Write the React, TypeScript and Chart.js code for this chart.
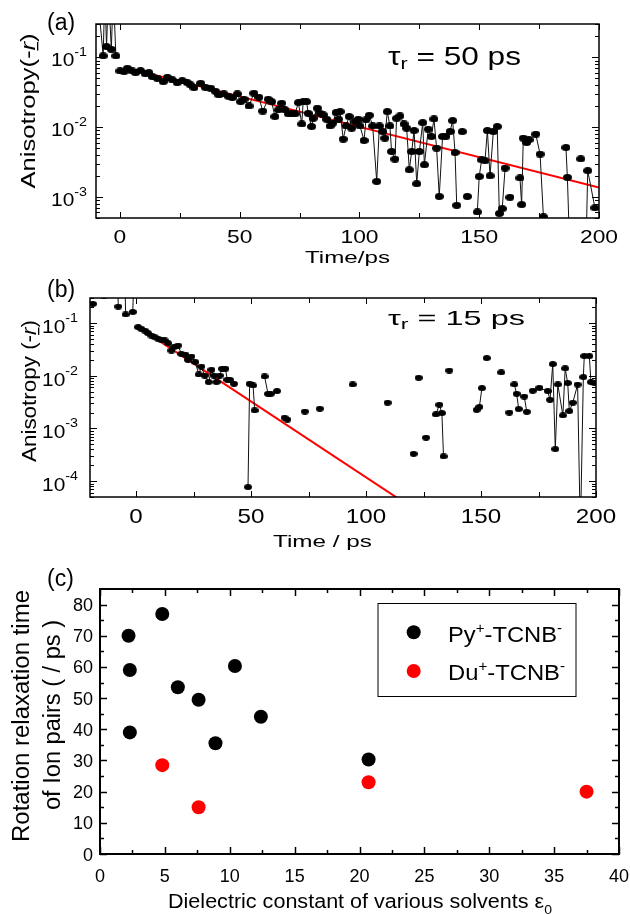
import React, { useEffect, useRef } from 'react';
import { Chart, registerables } from 'chart.js';

Chart.register(...registerables);

// ---------------- data ----------------
// (a) anisotropy decay, tau_r = 50 ps
const aTime = [
  -9.5, -7.0, -6.3, -5.6, -4.8, -3.6, -2.8, -1.7, -1.0,
  0, 1.7, 3.1, 5.1, 6.5, 8.6, 10.7, 12.1, 13.5, 15.6, 18.1, 19.8, 21.9, 23.9, 26.0, 28.1, 29.5, 30.9,
  33.7, 35.8, 37.9, 40.0, 41.3, 43.4, 45.5, 46.9, 49.0, 50.4, 51.8, 53.9, 55.9, 58.0, 59.6,
  61.9, 63.3, 64.7, 66.1, 67.5, 68.9, 70.3, 71.7, 73.1, 74.5, 75.9, 76.5, 77.9, 78.6, 80.0, 80.7,
  82.4, 83.5, 84.9, 86.3, 87.7, 88.8, 90.2, 91.2, 91.9, 93.2, 94.4, 95.7, 96.7, 98.1, 99.5, 100.2,
  101.9, 102.7, 104.1, 105.5, 107.2, 108.3, 109.7, 110.6, 111.6, 112.7, 113.4, 114.8, 115.5, 116.9,
  118.6, 119.7, 120.8, 121.8, 122.8, 123.9, 125.0, 126.4, 127.1, 128.7, 130.0, 131.1, 132.2, 133.3,
  134.7, 136.1, 137.8, 138.9, 139.9, 140.6, 141.8, 142.9, 144.0, 145.0, 146.5, 149.2, 150.0, 151.0,
  152.4, 153.4, 154.5, 155.9, 157.5, 158.4, 159.6, 160.8, 161.8, 162.8, 164.5, 167.0, 167.7, 168.4,
  169.8, 170.8, 173.6, 175.4, 176.8, 180.0, 186.2, 186.8, 188.0, 190.0, 192.4, 193.5, 194.4, 195.3, 198.3,
];
const aAniso = [
  0.9, 0.105, 0.9, 0.142, 0.9, 0.13, 0.9, 0.105, null,
  0.0637, 0.0624, 0.0697, 0.0637, 0.0603, 0.0644, 0.0577, 0.0603, 0.0528, 0.0501, 0.0448, 0.0518, 0.0474, 0.0434, 0.0463, 0.0434, 0.0402, 0.0368,
  0.0425, 0.0368, 0.0361, 0.0323, 0.0289, 0.0299, 0.0274, 0.0265, 0.0299, 0.0232, 0.0251, 0.0201, 0.0306, 0.0268, 0.017,
  0.0251, 0.0232, 0.0142, 0.0177, 0.022, 0.0177, 0.0155, 0.0158, 0.0155, 0.0225, 0.0111, 0.0232, 0.0232, 0.0158, 0.0102, 0.0134,
  0.0187, 0.0158, 0.015, 0.013, 0.0104, 0.0114, 0.0162, 0.013, 0.0167, 0.00674, 0.0104, 0.0142, 0.00968, 0.012, 0.013, 0.0104,
  0.00644, 0.0127, 0.0148, 0.0104, 0.00167, 0.0104, 0.00865, 0.00697, 0.0167, 0.0104, 0.00448, 0.00349, 0.0134, 0.0145,
  0.0111, 0.00968, 0.00245, 0.00448, 0.00894, 0.00155, 0.00448, 0.0116, 0.00289, 0.00936, 0.00735, 0.0131, 0.005, 0.00102,
  0.00735, 0.0074, 0.00865, 0.0124, 0.00434, 0.00076, null, 0.00865, null, 0.00102, null, 0.00061, 0.00197, 0.00341,
  0.0033, 0.00894, 0.00201, 0.00865, 0.0102, 0.00058, 0.00068, 0.0026, null, 0.00099, null, 0.00187, 0.00078, 0.00697,
  0.00603, 0.00659, 0.00794, 0.00411, 0.00052, null, 0.00512, 0.00191, 0.0001, null, 0.00352, null, 0.0001, 0.00238, 0.0007,
];
const aFitTime = [5, 200];
const aFitAniso = [0.0677, 0.00137];

// (b) anisotropy decay, tau_r = 15 ps
const bTime = [
  -18.8, -16.0, -13.9, -10.0, -8.0, -7.7, -6.0, -4.8, -4.5, -3.0, -1.4, -1.0, 0,
  0.9, 2.3, 3.8, 5.2, 6.7, 8.1, 9.6, 11.0, 12.5, 13.9, 15.4, 16.5, 18.3, 19.7, 21.5, 22.6, 24.1, 25.8,
  27.3, 28.4, 29.9, 31.6, 32.8, 33.9, 35.0, 36.4, 37.4, 38.9, 39.7, 40.8, 42.6, 45.0,
  48.7, 49.4, 50.9, 51.6, 54.0, 55.9, 57.4, 58.6, 60.0, 61.3, 63.0, 64.6, 65.8, 70.0, 73.4, 77.0, 79.9,
  85.0, 94.2, 100.0, 109.4, 115.0, 120.7, 121.8, 122.9, 124.5, 126.1, 128.0, 130.4, 131.9, 133.0, 133.7,
  135.0, 136.2, 140.0, 148.1, 149.3, 150.4, 151.5, 152.5, 155.0, 158.8, 160.0, 162.3, 163.5, 164.5, 165.5,
  166.4, 167.5, 168.8, 169.9, 171.0, 172.5, 175.4, 179.0, 180.0, 181.2, 182.3, 183.4, 185.6, 186.6, 187.7,
  188.4, 189.9, 192.0, 193.2, 194.5, 194.9, 197.1, 197.8, 199.3,
];
const bAniso = [
  0.232, null, 0.33, null, 0.6, 0.206, null, 0.6, 0.146, null, 0.163, 0.6, null,
  0.084, 0.078, 0.0724, 0.0646, 0.0582, 0.0542, 0.0504, 0.0482, 0.0468, 0.0417, 0.0302, 0.0351, 0.0376, 0.0261, 0.0253, 0.0201, 0.0232, 0.0182,
  0.0106, 0.015, 0.0101, 0.0076, 0.013, 0.0101, 0.0076, 0.0101, 0.0136, 0.0136, 0.0084, 0.0084, 0.00705, null,
  0.000077, 0.00705, 0.00655, 0.0022, null, 0.0097, 0.00455, 0.00455, null, 0.00513, null, 0.0016, 0.00148, null, 0.0021, null, 0.00237,
  null, 0.00684, null, 0.00308, null, 0.00033, null, 0.00916, null, 0.00067, null, 0.00185, 0.00282, 0.00196, 0.000295,
  null, 0.0126, null, 0.00226, 0.00255, 0.00583, null, 0.0217, null, 0.0116, null, 0.00201, null, 0.00684, 0.00455,
  0.00233, null, 0.00404, 0.00207, null, 0.00519, 0.00591, 0.00513, 0.00351, 0.0167, 0.000406, 0.00684, 0.00177, 0.0138, 0.00727,
  0.00214, 0.00308, 0.0068, 0.00001, 0.00944, 0.0237, 0.0237, 0.0076, 0.00727,
];
const bFitTime = [2, 120];
const bFitAniso = [0.0786, 0.0000314];

// (c) rotation relaxation time vs dielectric constant
const pyEps = [2.2, 2.3, 2.3, 4.8, 6.0, 7.6, 8.9, 10.4, 12.4, 20.7];
const pyTau = [70, 59, 39, 77, 53.5, 49.5, 35.5, 60.3, 44, 30.3];
const duEps = [4.8, 7.6, 20.7, 37.5];
const duTau = [28.5, 15, 23, 20];

// tick labels
const abXMajor = [0, 50, 100, 150, 200];
const abXMinor = [25, 75, 125, 175];
const aYExp = [-1, -2, -3];
const bYExp = [-1, -2, -3, -4];
const cXMajor = [0, 5, 10, 15, 20, 25, 30, 35, 40];
const cXMinor = [2.5, 7.5, 12.5, 17.5, 22.5, 27.5, 32.5, 37.5];
const cYMajor = [0, 10, 20, 30, 40, 50, 60, 70, 80];
const cYMinor = [5, 15, 25, 35, 45, 55, 65, 75];

// ---------------- helpers ----------------
const FONT = '"Liberation Sans", Arial, Helvetica, sans-serif';

type Seg = { t: string; s: number; dy?: number; it?: boolean; ul?: boolean };

function drawSegs(
  ctx: CanvasRenderingContext2D,
  segs: Seg[],
  x: number,
  y: number,
  align: 'left' | 'center' | 'right',
  opt: { w?: number; sx?: number; rot?: boolean; color?: string } = {}
) {
  ctx.save();
  let total = 0;
  const ws = segs.map((sg) => {
    ctx.font = `${sg.it ? 'italic ' : ''}${sg.s}px ${FONT}`;
    const w = ctx.measureText(sg.t).width;
    total += w;
    return w;
  });
  const sx = opt.w ? opt.w / total : opt.sx || 1;
  ctx.translate(x, y);
  if (opt.rot) ctx.rotate(-Math.PI / 2);
  ctx.scale(sx, 1);
  let cx = align === 'left' ? 0 : align === 'center' ? -total / 2 : -total;
  ctx.fillStyle = opt.color || '#000';
  ctx.textAlign = 'left';
  ctx.textBaseline = 'alphabetic';
  segs.forEach((sg, i) => {
    ctx.font = `${sg.it ? 'italic ' : ''}${sg.s}px ${FONT}`;
    ctx.fillText(sg.t, cx, sg.dy || 0);
    if (sg.ul) ctx.fillRect(cx, 2.5, ws[i], 1.3);
    cx += ws[i];
  });
  ctx.restore();
}

function logMinors(min: number, max: number) {
  const out: number[] = [];
  for (let e = Math.floor(Math.log10(min)); e <= Math.ceil(Math.log10(max)); e++) {
    for (let m = 2; m <= 9; m++) {
      const v = m * Math.pow(10, e);
      if (v >= min * 0.999 && v <= max * 1.001) out.push(v);
    }
  }
  return out;
}

function frame(ctx: CanvasRenderingContext2D, a: any, lw: number) {
  ctx.save();
  ctx.strokeStyle = '#000';
  ctx.lineWidth = lw;
  ctx.strokeRect(a.left, a.top, a.right - a.left, a.bottom - a.top);
  ctx.restore();
}

function ticksX(ctx: CanvasRenderingContext2D, sc: any, a: any, vals: number[], len: number, lw: number) {
  ctx.save();
  ctx.strokeStyle = '#000';
  ctx.lineWidth = lw;
  ctx.beginPath();
  vals.forEach((v) => {
    const p = Math.round(sc.getPixelForValue(v)) + 0.5;
    ctx.moveTo(p, a.bottom);
    ctx.lineTo(p, a.bottom - len);
    ctx.moveTo(p, a.top);
    ctx.lineTo(p, a.top + len);
  });
  ctx.stroke();
  ctx.restore();
}

function ticksY(ctx: CanvasRenderingContext2D, sc: any, a: any, vals: number[], len: number, lw: number) {
  ctx.save();
  ctx.strokeStyle = '#000';
  ctx.lineWidth = lw;
  ctx.beginPath();
  vals.forEach((v) => {
    const p = Math.round(sc.getPixelForValue(v)) + 0.5;
    ctx.moveTo(a.left, p);
    ctx.lineTo(a.left + len, p);
    ctx.moveTo(a.right, p);
    ctx.lineTo(a.right - len, p);
  });
  ctx.stroke();
  ctx.restore();
}

function makeDot(w: number, h: number, color: string) {
  const c = document.createElement('canvas');
  c.width = w;
  c.height = h;
  const g = c.getContext('2d')!;
  g.fillStyle = color;
  g.beginPath();
  g.ellipse(w / 2, h / 2, w / 2, h / 2, 0, 0, Math.PI * 2);
  g.fill();
  return c;
}

const pts = (xs: number[], ys: (number | null)[]) => xs.map((x, i) => ({ x, y: ys[i] }));

const W = 630;
const H = 914;
const pad = (l: number, t: number, r: number, b: number) => ({ left: l, top: t, right: W - r, bottom: H - b });

const baseOpts = {
  animation: false as const,
  responsive: false,
  events: [] as any[],
  plugins: { legend: { display: false }, tooltip: { enabled: false }, title: { display: false } },
};

// ---------------- panel configs ----------------
function cfgA(dot: HTMLCanvasElement): any {
  const yMin = 5e-4;
  const yMax = 0.3;
  return {
    type: 'line',
    data: {
      datasets: [
        {
          data: pts(aTime, aAniso),
          borderColor: '#111',
          borderWidth: 1,
          pointStyle: dot,
          pointRadius: 4,
          pointBackgroundColor: '#000',
          spanGaps: false,
          clip: 0,
        },
        {
          data: pts(aFitTime, aFitAniso),
          borderColor: '#ff0000',
          borderWidth: 2,
          pointRadius: 0,
          clip: 0,
        },
      ],
    },
    options: {
      ...baseOpts,
      layout: { padding: pad(96, 24, 599, 218) },
      scales: {
        x: { type: 'linear', min: -10, max: 200, display: false },
        y: { type: 'logarithmic', min: yMin, max: yMax, display: false },
      },
    },
    plugins: [
      {
        id: 'decoA',
        afterDraw(chart: any) {
          const ctx = chart.ctx as CanvasRenderingContext2D;
          const a = chart.chartArea;
          const sx = chart.scales.x;
          const sy = chart.scales.y;
          frame(ctx, a, 1.5);
          ticksX(ctx, sx, a, abXMajor, 6, 1);
          ticksX(ctx, sx, a, abXMinor, 5, 1);
          ticksY(ctx, sy, a, aYExp.map((e) => Math.pow(10, e)), 7, 1);
          ticksY(ctx, sy, a, logMinors(yMin, yMax), 4, 1);
          abXMajor.forEach((v) =>
            drawSegs(ctx, [{ t: String(v), s: 19 }], sx.getPixelForValue(v), 243, 'center', { sx: 1.2 })
          );
          aYExp.forEach((e) =>
            drawSegs(ctx, [{ t: '10', s: 19 }, { t: String(e), s: 13, dy: -10 }], 87, sy.getPixelForValue(Math.pow(10, e)) + 9, 'right', { sx: 1.1 })
          );
          drawSegs(ctx, [{ t: '(a)', s: 23 }], 47, 30, 'left');
          drawSegs(ctx, [{ t: 'τ', s: 25 }, { t: 'r', s: 17, dy: 4 }, { t: ' = 50 ps', s: 25 }], 388, 65, 'left', { w: 133 });
          drawSegs(ctx, [{ t: 'Time/ps', s: 17 }], 347.5, 263, 'center', { w: 85 });
          drawSegs(
            ctx,
            [{ t: 'Anisotropy(-', s: 21 }, { t: 'r', s: 21, it: true, ul: true }, { t: ')', s: 21 }],
            34.5,
            111,
            'center',
            { w: 155, rot: true }
          );
        },
      },
    ],
  };
}

function cfgB(dot: HTMLCanvasElement): any {
  const yMin = 5e-5;
  const yMax = 0.3;
  return {
    type: 'line',
    data: {
      datasets: [
        {
          data: pts(bTime, bAniso),
          borderColor: '#111',
          borderWidth: 1,
          pointStyle: dot,
          pointRadius: 4,
          pointBackgroundColor: '#000',
          spanGaps: false,
          clip: 0,
        },
        {
          data: pts(bFitTime, bFitAniso),
          borderColor: '#ff0000',
          borderWidth: 2,
          pointRadius: 0,
          clip: 0,
        },
      ],
    },
    options: {
      ...baseOpts,
      layout: { padding: pad(90, 298, 596, 497) },
      scales: {
        x: { type: 'linear', min: -20, max: 200, display: false },
        y: { type: 'logarithmic', min: yMin, max: yMax, display: false },
      },
    },
    plugins: [
      {
        id: 'decoB',
        afterDraw(chart: any) {
          const ctx = chart.ctx as CanvasRenderingContext2D;
          const a = chart.chartArea;
          const sx = chart.scales.x;
          const sy = chart.scales.y;
          frame(ctx, a, 1.5);
          ticksX(ctx, sx, a, abXMajor, 6, 1);
          ticksX(ctx, sx, a, abXMinor, 5, 1);
          ticksY(ctx, sy, a, bYExp.map((e) => Math.pow(10, e)), 7, 1);
          ticksY(ctx, sy, a, logMinors(yMin, yMax), 4, 1);
          abXMajor.forEach((v) =>
            drawSegs(ctx, [{ t: String(v), s: 21 }], sx.getPixelForValue(v), 523, 'center', { sx: 1.15 })
          );
          bYExp.forEach((e) =>
            drawSegs(ctx, [{ t: '10', s: 19 }, { t: String(e), s: 13, dy: -11 }], 78, sy.getPixelForValue(Math.pow(10, e)) + 10, 'right', { sx: 1.1 })
          );
          drawSegs(ctx, [{ t: '(b)', s: 23 }], 47, 297, 'left');
          drawSegs(ctx, [{ t: 'τ', s: 21 }, { t: 'r', s: 15, dy: 4 }, { t: ' = 15 ps', s: 21 }], 388, 325, 'left', { w: 137 });
          drawSegs(ctx, [{ t: 'Time / ps', s: 17 }], 322.5, 547, 'center', { w: 99 });
          drawSegs(
            ctx,
            [{ t: 'Anisotropy (-', s: 21 }, { t: 'r', s: 21, it: true, ul: true }, { t: ')', s: 21 }],
            35.5,
            391,
            'center',
            { w: 142, rot: true }
          );
        },
      },
    ],
  };
}

function cfgC(): any {
  return {
    type: 'scatter',
    data: {
      datasets: [
        {
          data: pts(pyEps, pyTau),
          pointRadius: 7,
          pointBackgroundColor: '#000',
          pointBorderWidth: 0,
          borderColor: '#000',
        },
        {
          data: pts(duEps, duTau),
          pointRadius: 7,
          pointBackgroundColor: '#ff0000',
          pointBorderWidth: 0,
          borderColor: '#ff0000',
        },
      ],
    },
    options: {
      ...baseOpts,
      layout: { padding: pad(100, 589, 619, 854) },
      scales: {
        x: { type: 'linear', min: 0, max: 40, display: false },
        y: { type: 'linear', min: 0, max: 85, display: false },
      },
    },
    plugins: [
      {
        id: 'decoC',
        afterDraw(chart: any) {
          const ctx = chart.ctx as CanvasRenderingContext2D;
          const a = chart.chartArea;
          const sx = chart.scales.x;
          const sy = chart.scales.y;
          frame(ctx, a, 2);
          ticksX(ctx, sx, a, cXMajor, 7, 1.5);
          ticksX(ctx, sx, a, cXMinor, 4, 1.5);
          ticksY(ctx, sy, a, cYMajor, 7, 1.5);
          ticksY(ctx, sy, a, cYMinor, 4, 1.5);
          cXMajor.forEach((v) =>
            drawSegs(ctx, [{ t: String(v), s: 18 }], sx.getPixelForValue(v), 882, 'center')
          );
          cYMajor.forEach((v) =>
            drawSegs(ctx, [{ t: String(v), s: 18 }], 93, sy.getPixelForValue(v) + 6.5, 'right')
          );
          drawSegs(ctx, [{ t: '(c)', s: 23 }], 47, 586, 'left');
          drawSegs(
            ctx,
            [{ t: 'Dielectric constant of various solvents ε', s: 20 }, { t: '0', s: 13, dy: 6 }],
            360,
            908,
            'center',
            { w: 384 }
          );
          drawSegs(ctx, [{ t: 'Rotation relaxation time', s: 23 }], 29, 716, 'center', { w: 252, rot: true });
          drawSegs(ctx, [{ t: 'of Ion pairs ( / ps )', s: 23 }], 60, 715, 'center', { w: 190, rot: true });
          // legend
          ctx.save();
          ctx.strokeStyle = '#000';
          ctx.lineWidth = 1;
          ctx.strokeRect(378, 603.5, 198, 93);
          ctx.fillStyle = '#000';
          ctx.beginPath();
          ctx.arc(413.7, 632.3, 7, 0, Math.PI * 2);
          ctx.fill();
          ctx.fillStyle = '#ff0000';
          ctx.beginPath();
          ctx.arc(413.7, 671, 7, 0, Math.PI * 2);
          ctx.fill();
          ctx.restore();
          drawSegs(
            ctx,
            [{ t: 'Py', s: 22 }, { t: '+', s: 14, dy: -9 }, { t: '-TCNB', s: 22 }, { t: '-', s: 14, dy: -9 }],
            448,
            641.7,
            'left',
            { w: 114 }
          );
          drawSegs(
            ctx,
            [{ t: 'Du', s: 22 }, { t: '+', s: 14, dy: -9 }, { t: '-TCNB', s: 22 }, { t: '-', s: 14, dy: -9 }],
            448,
            680,
            'left',
            { w: 117 }
          );
        },
      },
    ],
  };
}

export default function App() {
  const ra = useRef<HTMLCanvasElement>(null);
  const rb = useRef<HTMLCanvasElement>(null);
  const rc = useRef<HTMLCanvasElement>(null);

  useEffect(() => {
    const dotA = makeDot(9, 7, '#000');
    const dotB = makeDot(8, 6, '#000');
    const charts = [
      new Chart(ra.current!, cfgA(dotA)),
      new Chart(rb.current!, cfgB(dotB)),
      new Chart(rc.current!, cfgC()),
    ];
    return () => charts.forEach((c) => c.destroy());
  }, []);

  const cs: React.CSSProperties = { position: 'absolute', left: 0, top: 0, width: W, height: H };
  return (
    <div style={{ position: 'absolute', left: 0, top: 0, width: W, height: H, background: '#fff', overflow: 'hidden' }}>
      <canvas ref={ra} width={W} height={H} style={cs} />
      <canvas ref={rb} width={W} height={H} style={cs} />
      <canvas ref={rc} width={W} height={H} style={cs} />
    </div>
  );
}
